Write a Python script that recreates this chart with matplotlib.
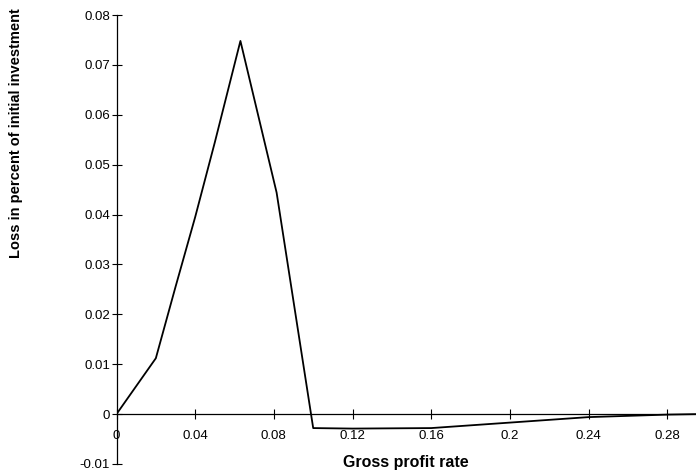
import matplotlib
matplotlib.use("Agg")
import matplotlib.pyplot as plt

# Data
profit_rate = [0.0, 0.02, 0.03, 0.04, 0.05, 0.063, 0.0814, 0.100, 0.12, 0.16, 0.20, 0.24, 0.28, 0.295]
loss = [0.0, 0.0112, 0.0255, 0.0395, 0.0545, 0.0748, 0.0444, -0.0028, -0.0029, -0.0028, -0.0017, -0.0006, -0.0001, 0.0]

x_ticks = [0, 0.04, 0.08, 0.12, 0.16, 0.2, 0.24, 0.28]
x_tick_labels = ["0", "0.04", "0.08", "0.12", "0.16", "0.2", "0.24", "0.28"]
y_ticks = [-0.01, 0, 0.01, 0.02, 0.03, 0.04, 0.05, 0.06, 0.07, 0.08]
y_tick_labels = ["-0.01", "0", "0.01", "0.02", "0.03", "0.04", "0.05", "0.06", "0.07", "0.08"]

plt.rcParams['font.family'] = ['Liberation Sans', 'DejaVu Sans']

fig = plt.figure(figsize=(6.96, 4.75), dpi=100)
ax = fig.add_axes([116.5 / 696, 1 - 464 / 475, 1 - 116.5 / 696, (464 - 15) / 475])

ax.plot(profit_rate, loss, color='black', lw=1.3)

ax.set_xlim(0, (696 - 116.5) / 1967)
ax.set_ylim(-0.01, 0.08)

ax.spines['top'].set_visible(False)
ax.spines['right'].set_visible(False)
ax.spines['bottom'].set_position(('data', 0))
ax.spines['left'].set_linewidth(0.9)
ax.spines['bottom'].set_linewidth(0.9)

ax.set_xticks(x_ticks)
ax.set_xticklabels(x_tick_labels)
ax.set_yticks(y_ticks)
ax.set_yticklabels(y_tick_labels)

ax.tick_params(axis='x', direction='inout', length=7, width=0.8, pad=8, labelsize=9.5)
ax.tick_params(axis='y', direction='inout', length=7, width=0.8, pad=1, labelsize=9.5)

fig.text(406 / 696, 1 - 463 / 475, "Gross profit rate", ha='center', va='center',
         fontsize=11.5, fontweight='bold')
fig.text(16 / 696, 1 - 133 / 475, "Loss in percent of initial investment", ha='center',
         va='center', rotation=90, fontsize=10.5, fontweight='bold')

fig.savefig("out.png", dpi=100)
